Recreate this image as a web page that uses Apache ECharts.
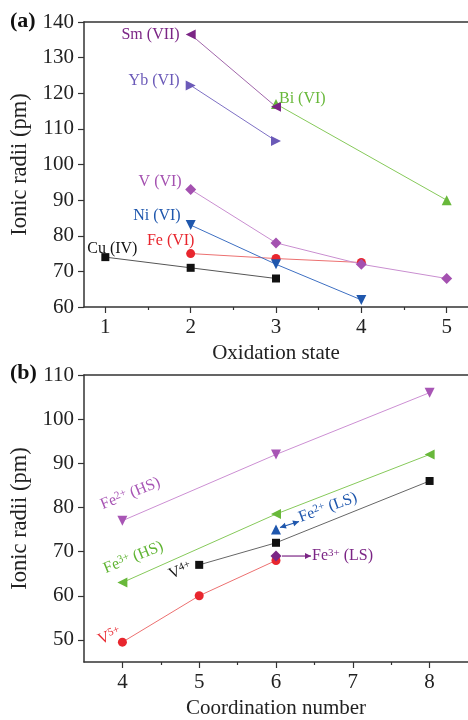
<!DOCTYPE html>
<html><head><meta charset="utf-8">
<script src="https://cdn.jsdelivr.net/npm/echarts@6/dist/echarts.min.js"></script>
<style>html,body{margin:0;padding:0;background:#fff}#c{width:468px;height:720px}</style>
</head><body><div id="c"></div>
<script>
// ---- Panel (a): ionic radii vs oxidation state ----
const oxTicks = [1, 2, 3, 4, 5];
const oxMinor = [1.5, 2.5, 3.5, 4.5];
const aYTicks = [60, 70, 80, 90, 100, 110, 120, 130, 140];
const aYMinor = [65, 75, 85, 95, 105, 115, 125, 135];
const cuIV = [[1, 74], [2, 71], [3, 68]];
const feVI = [[2, 75], [3, 73.6], [4, 72.5]];
const niVI = [[2, 83], [3, 72], [4, 62]];
const vVI = [[2, 93], [3, 78], [4, 72], [5, 68]];
const biVI = [[3, 117], [5, 90]];
const ybVI = [[2, 122.2], [3, 106.6]];
const smVII = [[2, 136.5], [3, 116.2]];
// ---- Panel (b): ionic radii vs coordination number ----
const cnTicks = [4, 5, 6, 7, 8];
const cnMinor = [4.5, 5.5, 6.5, 7.5];
const bYTicks = [50, 60, 70, 80, 90, 100, 110];
const bYMinor = [55, 65, 75, 85, 95, 105];
const fe2HS = [[4, 77], [6, 92], [8, 106]];
const fe3HS = [[4, 63], [6, 78.5], [8, 92]];
const v4 = [[5, 67], [6, 72], [8, 86]];
const v5 = [[4, 49.5], [5, 60], [6, 68]];
const fe2LS = [[6, 75]];
const fe3LS = [[6, 69]];

const FONT = 'Liberation Serif';
const AX = '#333';
const chart = echarts.init(document.getElementById('c'));

function xMain(grid, min, max, ticks, name, gap) {
  return {
    type: 'value', gridIndex: grid, position: 'bottom', min, max,
    axisLine: {show: true, onZero: false, lineStyle: {color: AX, width: 1.5}},
    axisTick: {show: true, customValues: ticks, length: 6, lineStyle: {color: AX, width: 1.2}},
    axisLabel: {customValues: ticks, margin: 10, fontFamily: FONT, fontSize: 21, color: '#222'},
    splitLine: {show: false},
    name, nameLocation: 'middle', nameGap: gap,
    nameTextStyle: {fontFamily: FONT, fontSize: 21, color: '#222'}
  };
}
function xMinor(grid, min, max, ticks) {
  return {
    type: 'value', gridIndex: grid, position: 'bottom', min, max,
    axisLine: {show: false},
    axisTick: {show: true, customValues: ticks, length: 3, lineStyle: {color: AX, width: 1.2}},
    axisLabel: {show: false}, splitLine: {show: false}
  };
}
function xTop(grid, min, max) {
  return {
    type: 'value', gridIndex: grid, position: 'top', min, max,
    axisLine: {show: true, onZero: false, lineStyle: {color: AX, width: 1.5}},
    axisTick: {show: false}, axisLabel: {show: false}, splitLine: {show: false}
  };
}
function yMain(grid, min, max, ticks) {
  return {
    type: 'value', gridIndex: grid, min, max,
    axisLine: {show: true, onZero: false, lineStyle: {color: AX, width: 1.5}},
    axisTick: {show: true, customValues: ticks, length: 6, lineStyle: {color: AX, width: 1.2}},
    axisLabel: {customValues: ticks, margin: 10, fontFamily: FONT, fontSize: 21, color: '#222'},
    splitLine: {show: false},
    name: 'Ionic radii (pm)', nameLocation: 'middle', nameGap: 52,
    nameTextStyle: {fontFamily: FONT, fontSize: 22.5, color: '#222'}
  };
}
function yMinor(grid, min, max, ticks) {
  return {
    type: 'value', gridIndex: grid, min, max,
    axisLine: {show: false},
    axisTick: {show: true, customValues: ticks, length: 3, lineStyle: {color: AX, width: 1.2}},
    axisLabel: {show: false}, splitLine: {show: false}
  };
}

function ser(data, xi, yi, mColor, lColor, symbol, size, rot) {
  return {
    type: 'line', data, xAxisIndex: xi, yAxisIndex: yi,
    symbol, symbolSize: size, symbolRotate: rot || 0,
    itemStyle: {color: mColor}, lineStyle: {color: lColor, width: 1},
    showAllSymbol: true, animation: false, z: 3
  };
}

const C = {
  black: '#111', red: '#e8262e', blue: '#1f57ad', purple: '#a451b0',
  green: '#68b83a', slate: '#6b5ab8', dpurple: '#7b2585', magenta: '#a855b5'
};

chart.setOption({
  animation: false,
  grid: [
    {left: 84, top: 22, width: 388, height: 285},
    {left: 84, top: 375, width: 386, height: 288}
  ],
  xAxis: [
    xMain(0, 0.75, 5.25, oxTicks, 'Oxidation state', 36),
    xMinor(0, 0.75, 5.25, oxMinor),
    xTop(0, 0.75, 5.25),
    xMain(1, 3.5, 8.5, cnTicks, 'Coordination number', 36),
    xMinor(1, 3.5, 8.5, cnMinor),
    xTop(1, 3.5, 8.5)
  ],
  yAxis: [
    yMain(0, 60, 140, aYTicks),
    yMinor(0, 60, 140, aYMinor),
    yMain(1, 45, 110, bYTicks),
    yMinor(1, 45, 110, bYMinor)
  ],
  series: [
    ser(cuIV, 0, 0, C.black, '#555', 'rect', 8),
    ser(feVI, 0, 0, C.red, '#ec7070', 'circle', 9),
    ser(niVI, 0, 0, C.blue, '#3d6fc2', 'triangle', 10, 180),
    ser(vVI, 0, 0, C.purple, '#c98ed0', 'diamond', 11),
    ser(biVI, 0, 0, C.green, '#86c95a', 'triangle', 10),
    ser(ybVI, 0, 0, C.slate, '#7e70c4', 'triangle', 10, -90),
    ser(smVII, 0, 0, C.dpurple, '#a066aa', 'triangle', 10, 90),
    ser(fe2HS, 3, 2, C.magenta, '#cc8fd3', 'triangle', 10, 180),
    ser(fe3HS, 3, 2, C.green, '#86c95a', 'triangle', 10, 90),
    ser(v4, 3, 2, C.black, '#666', 'rect', 8),
    ser(v5, 3, 2, C.red, '#ec7070', 'circle', 9),
    ser(fe2LS, 3, 2, C.blue, C.blue, 'triangle', 10),
    ser(fe3LS, 3, 2, C.dpurple, C.dpurple, 'diamond', 11)
  ]
});

function px(grid, pt) {
  return chart.convertToPixel({xAxisIndex: grid === 0 ? 0 : 3, yAxisIndex: grid === 0 ? 0 : 2}, pt);
}
const sup = {fontSize: 11, fontFamily: FONT, verticalAlign: 'top', padding: [0, 0, 6, 0]};
function txt(grid, pt, dx, dy, text, color, opts) {
  const p = px(grid, pt);
  opts = opts || {};
  return {
    type: 'text', x: p[0] + dx, y: p[1] + dy, rotation: (opts.rot || 0) * Math.PI / 180, z: 10,
    style: {
      text, fill: color, fontFamily: FONT, fontSize: opts.size || 16,
      align: opts.align || 'center', verticalAlign: 'middle',
      rich: {sup: Object.assign({fill: color}, sup), n: {fontSize: opts.size || 16, fontFamily: FONT, fill: color}}
    }
  };
}
function arrow(grid, pt, x1, y1, x2, y2, color, both) {
  const p = px(grid, pt);
  const a = [p[0] + x1, p[1] + y1], b = [p[0] + x2, p[1] + y2];
  const els = [{type: 'line', z: 10, shape: {x1: a[0], y1: a[1], x2: b[0], y2: b[1]}, style: {stroke: color, lineWidth: 1.2}}];
  function head(tip, from) {
    const ang = Math.atan2(tip[1] - from[1], tip[0] - from[0]);
    const L = 6, W = 3;
    const bx = tip[0] - L * Math.cos(ang), by = tip[1] - L * Math.sin(ang);
    return {type: 'polygon', z: 10, shape: {points: [tip,
      [bx + W * Math.sin(ang), by - W * Math.cos(ang)],
      [bx - W * Math.sin(ang), by + W * Math.cos(ang)]]}, style: {fill: color}};
  }
  els.push(head(b, a));
  if (both) els.push(head(a, b));
  return els;
}

const g = [
  {type: 'text', left: 10, top: 10, z: 10, style: {text: '(a)', fontFamily: FONT, fontSize: 22, fontWeight: 'bold', fill: '#111'}},
  {type: 'text', left: 10, top: 362, z: 10, style: {text: '(b)', fontFamily: FONT, fontSize: 22, fontWeight: 'bold', fill: '#111'}},
  txt(0, smVII[0], -11, 0, 'Sm (VII)', C.dpurple, {align: 'right'}),
  txt(0, ybVI[0], -11, -5, 'Yb (VI)', C.slate, {align: 'right'}),
  txt(0, biVI[0], 3, -5, 'Bi (VI)', C.green, {align: 'left'}),
  txt(0, vVI[0], -9, -8, 'V (VI)', C.purple, {align: 'right'}),
  txt(0, niVI[0], -10, -9, 'Ni (VI)', C.blue, {align: 'right'}),
  txt(0, feVI[0], -20, -13, 'Fe (VI)', C.red),
  txt(0, cuIV[0], 7, -8, 'Cu (IV)', C.black),
  txt(1, fe2HS[0], 8, -27, '{n|Fe}{sup|2+}{n| (HS)}', C.magenta, {rot: 22}),
  txt(1, fe3HS[0], 11, -25, '{n|Fe}{sup|3+}{n| (HS)}', '#5fb432', {rot: 22}),
  txt(1, v4[0], -19, 6, '{n|V}{sup|4+}', C.black, {rot: 22}),
  txt(1, v5[0], -13, -6, '{n|V}{sup|5+}', C.red, {rot: 22}),
  txt(1, fe2LS[0], 52, -22, '{n|Fe}{sup|2+}{n| (LS)}', C.blue, {rot: 20}),
  txt(1, fe3LS[0], 36, 0, '{n|Fe}{sup|3+}{n| (LS)}', C.dpurple, {align: 'left'})
].concat(
  arrow(1, fe2LS[0], 4, -2, 23, -8, C.blue, true),
  arrow(1, fe3LS[0], 6, 0, 35, 0, C.dpurple, false)
);
chart.setOption({graphic: g});
</script>
</body></html>
